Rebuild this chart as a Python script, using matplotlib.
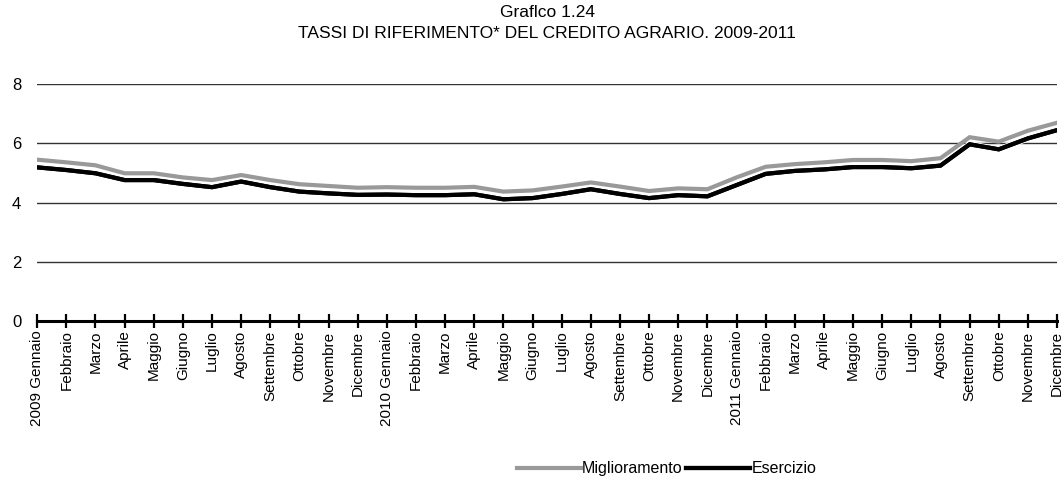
import numpy as np
import matplotlib
matplotlib.use("Agg")
import matplotlib.pyplot as plt
import matplotlib.patheffects as pe

# Dati
mesi = ["Gennaio", "Febbraio", "Marzo", "Aprile", "Maggio", "Giugno",
        "Luglio", "Agosto", "Settembre", "Ottobre", "Novembre", "Dicembre"]
anni = ["2009", "2010", "2011"]
etichette = []
for a in anni:
    for i, m in enumerate(mesi):
        etichette.append(a + " " + m if i == 0 else m)

miglioramento = [5.45, 5.36, 5.26, 4.99, 4.99, 4.85, 4.76, 4.93, 4.76, 4.62, 4.56, 4.50,
                 4.52, 4.50, 4.50, 4.53, 4.37, 4.41, 4.54, 4.68, 4.54, 4.39, 4.48, 4.45,
                 4.85, 5.21, 5.30, 5.36, 5.44, 5.44, 5.40, 5.50, 6.21, 6.06, 6.43, 6.70]
esercizio = [5.19, 5.10, 4.99, 4.76, 4.76, 4.63, 4.52, 4.71, 4.52, 4.37, 4.31, 4.26,
             4.27, 4.25, 4.25, 4.28, 4.11, 4.15, 4.29, 4.45, 4.29, 4.15, 4.25, 4.21,
             4.59, 4.97, 5.07, 5.12, 5.20, 5.20, 5.16, 5.25, 5.97, 5.80, 6.17, 6.45]

plt.rcParams["font.family"] = ["Liberation Sans", "DejaVu Sans"]
fs = 11

fig = plt.figure(figsize=(10.63, 4.86), dpi=100, facecolor="w")
ax = fig.add_axes([0.035, 0.34, 0.9594, 0.4865])

x = np.arange(len(etichette))
ax.plot(x, miglioramento, color="#999999", lw=3.0, label="Miglioramento",
        solid_joinstyle="miter", zorder=3)
ax.plot(x, esercizio, color="black", lw=3.0, label="Esercizio", solid_joinstyle="miter",
        path_effects=[pe.withStroke(linewidth=4.4, foreground="white"), pe.Normal()],
        zorder=4)

ax.set_xlim(0, len(etichette) - 1)
ax.set_ylim(0, 8)
ax.set_yticks([0, 2, 4, 6, 8])
ax.yaxis.grid(True, color="#333333", lw=1.0)
ax.set_axisbelow(True)
for s in ["top", "right", "left"]:
    ax.spines[s].set_visible(False)
ax.spines["bottom"].set_linewidth(2.2)
ax.spines["bottom"].set_zorder(5)
ax.tick_params(axis="y", length=0, pad=11.5, labelsize=fs + 1)
ax.set_xticks(x)
ax.set_xticklabels(etichette, rotation=90, fontsize=fs)
ax.tick_params(axis="x", direction="inout", length=10, width=1.6, pad=2)

fig.text(0.5146, 0.975, "Graflco 1.24", ha="center", va="center", fontsize=12.5)
fig.text(0.5146, 0.931, "TASSI DI RIFERIMENTO* DEL CREDITO AGRARIO. 2009-2011",
         ha="center", va="center", fontsize=12.5)

fig.legend(loc="center", bbox_to_anchor=(0.627, 0.035), ncol=2, frameon=False,
           fontsize=fs + 0.5, handlelength=4.0, handletextpad=0.1, columnspacing=0.2)

fig.savefig("out.png", dpi=100)
